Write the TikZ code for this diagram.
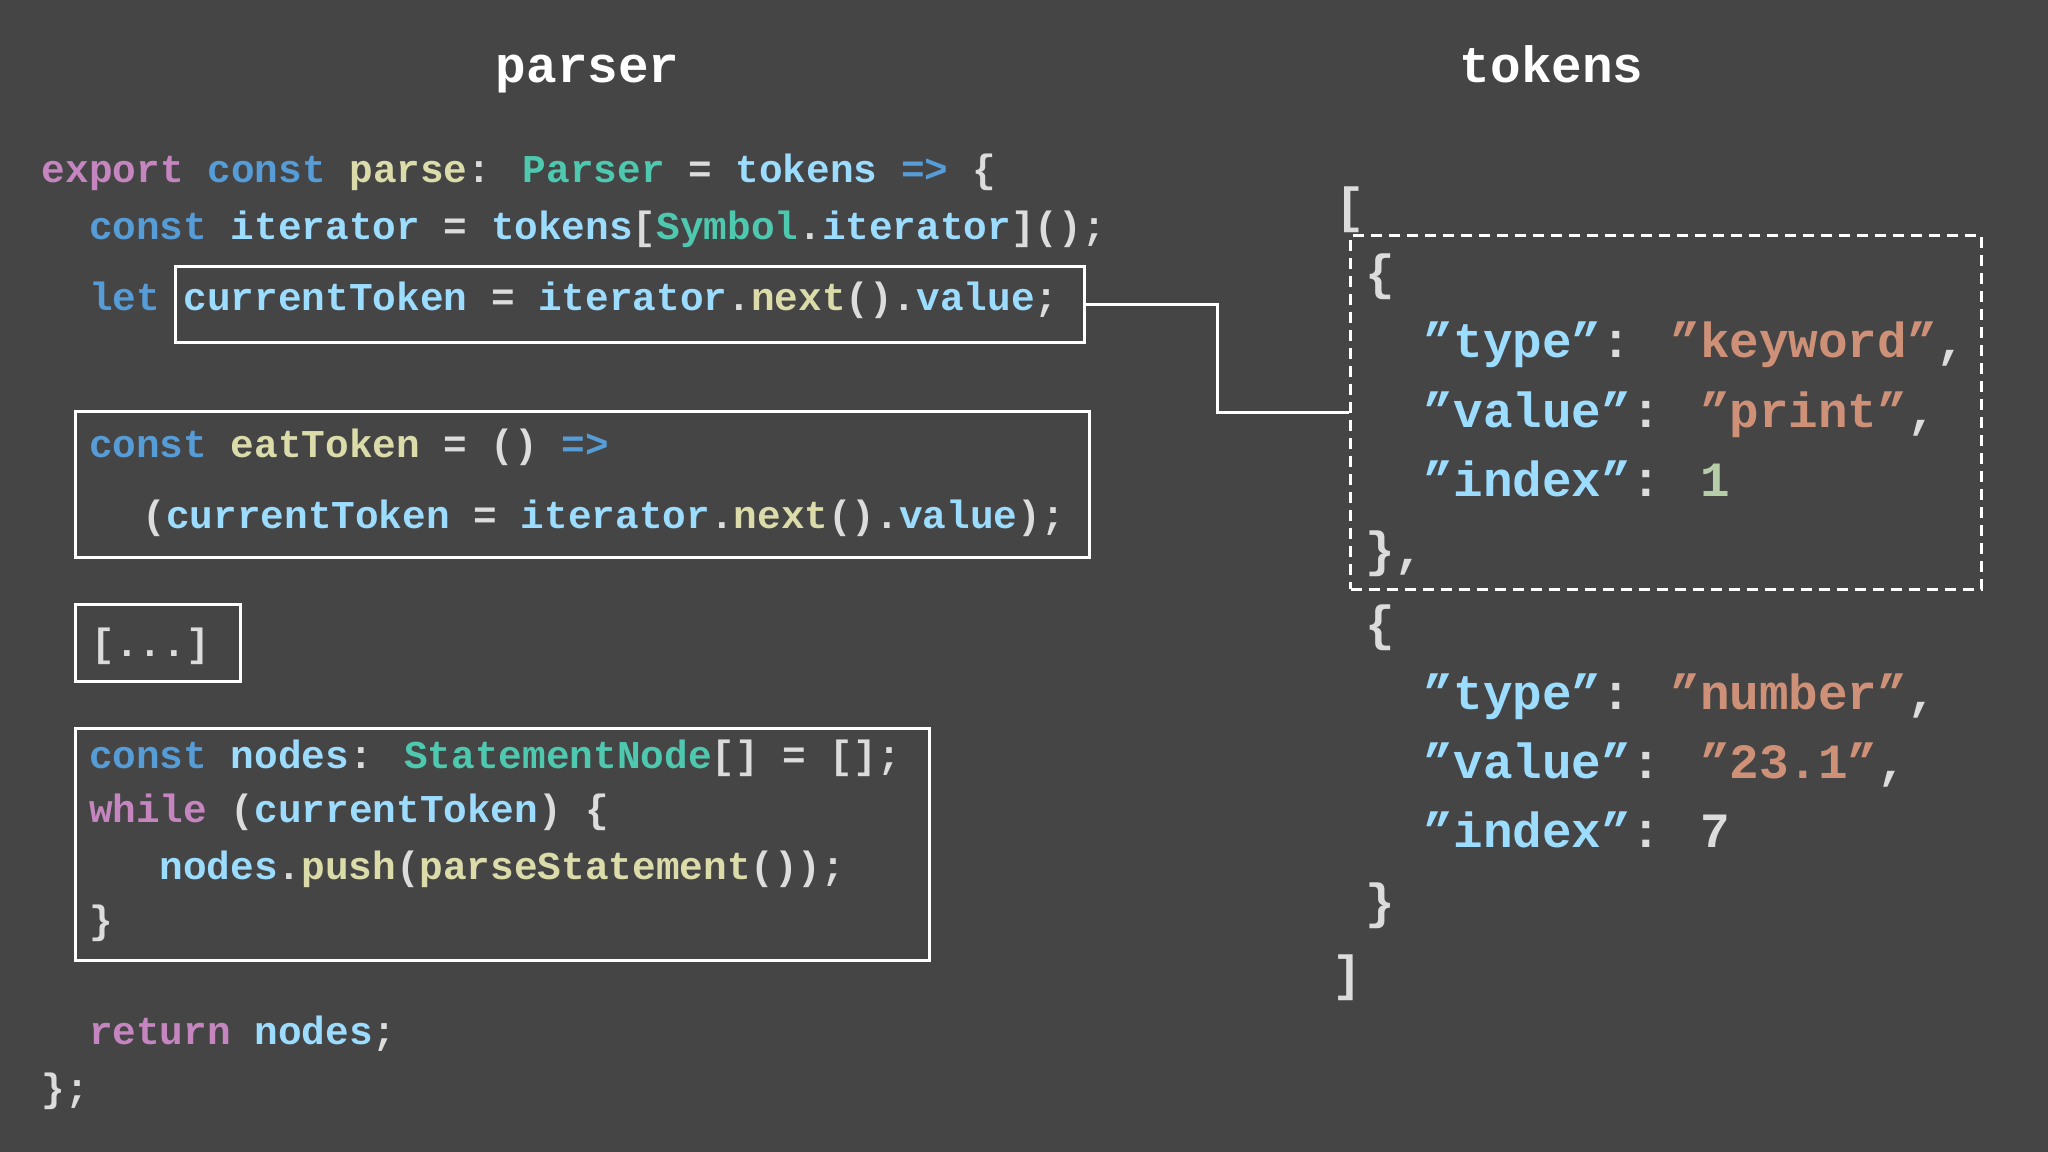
\documentclass[tikz,border=0pt]{standalone}
\usepackage{fontspec}
\setmainfont{Liberation Mono}[BoldFont=* Bold]
\definecolor{bg}{RGB}{69,69,70}
\definecolor{fg}{RGB}{220,220,220}
\definecolor{kw}{RGB}{197,134,192}
\definecolor{bl}{RGB}{86,156,214}
\definecolor{yl}{RGB}{220,220,170}
\definecolor{tl}{RGB}{78,201,176}
\definecolor{lb}{RGB}{156,220,254}
\definecolor{st}{RGB}{206,145,120}
\definecolor{nm}{RGB}{181,206,168}
\newcommand\cK[1]{\textcolor{kw}{#1}}
\newcommand\cB[1]{\textcolor{bl}{#1}}
\newcommand\cY[1]{\textcolor{yl}{#1}}
\newcommand\cT[1]{\textcolor{tl}{#1}}
\newcommand\cL[1]{\textcolor{lb}{#1}}
\newcommand\cS[1]{\textcolor{st}{#1}}
\newcommand\cN[1]{\textcolor{nm}{#1}}
\newcommand\qq[1]{\symbol{34}#1\symbol{34}}
\begin{document}
\begin{tikzpicture}[x=1.306pt,y=-1.306pt,
  code/.style={anchor=base west,inner sep=0pt,text=fg,font=\bfseries\fontsize{39.4}{40}\selectfont},
  big/.style={anchor=base west,inner sep=0pt,text=fg,font=\bfseries\fontsize{49.3}{50}\selectfont},
  frame/.style={draw=white,line width=3pt}]
\fill[bg] (0,0) rectangle (1568,882);
\useasboundingbox (0,0) rectangle (1568,882);
\node[anchor=base,inner sep=0pt,text=white,font=\bfseries\fontsize{51}{52}\selectfont] (t1) at (450,63) {parser};
\node[anchor=base,inner sep=0pt,text=white,font=\bfseries\fontsize{51}{52}\selectfont] (t2) at (1188,63) {tokens};
% code
\node[code] (l1) at (32,140) {\cK{export} \cB{const} \cY{parse}: \cT{Parser} = \cL{tokens} \cB{=>} \{};
\node[code] (l2) at (68,183) {\cB{const} \cL{iterator} = \cL{tokens}[\cT{Symbol}.\cL{iterator}]();};
\node[code] (l3) at (68,238) {\cB{let} \cL{currentToken} = \cL{iterator}.\cY{next}().\cL{value};};
\node[code] (e1) at (68,350) {\cB{const} \cY{eatToken} = () \cB{=>}};
\node[code] (e2) at (109,405) {(\cL{currentToken} = \cL{iterator}.\cY{next}().\cL{value});};
\node[code] (d1) at (70,503) {[...]};
\node[code] (n1) at (68,588) {\cB{const} \cL{nodes}: \cT{StatementNode}[] = [];};
\node[code] (n2) at (68,630) {\cK{while} (\cL{currentToken}) \{};
\node[code] (n3) at (122,673) {\cL{nodes}.\cY{push}(\cY{parseStatement}());};
\node[code] (n4) at (68,715) {\}};
\node[code] (r1) at (68,800) {\cK{return} \cL{nodes};};
\node[code] (r2) at (32,843) {\};};
% boxes
\node[frame,inner sep=0pt,minimum width=696*1.306pt,minimum height=58*1.306pt] (letbox) at (482,233) {};
\node[frame,inner sep=0pt,minimum width=776*1.306pt,minimum height=112*1.306pt] (eatbox) at (446,371) {};
\node[frame,inner sep=0pt,minimum width=126*1.306pt,minimum height=59*1.306pt] (dotbox) at (121,492.5) {};
\node[frame,inner sep=0pt,minimum width=654*1.306pt,minimum height=177*1.306pt] (nodebox) at (385,646.5) {};
\node[draw=white,line width=3pt,dash pattern=on 11pt off 7pt,inner sep=0pt,minimum width=483*1.306pt,minimum height=271*1.306pt] (dash) at (1275.5,315.5) {};
\draw[white,line width=3pt] (letbox.east) -- ++(101,0) |- (dash.west);
% tokens
\node[big] (k0) at (1022,170) {[};
\node[big] (k1) at (1045,222) {\{};
\node[big] (k2) at (1090,274) {\cL{\qq{type}}: \cS{\qq{keyword}},};
\node[big] (k3) at (1090,327) {\cL{\qq{value}}: \cS{\qq{print}},};
\node[big] (k4) at (1090,380) {\cL{\qq{index}}: \cN{1}};
\node[big] (k5) at (1045,434) {\},};
\node[big] (k6) at (1045,490) {\{};
\node[big] (k7) at (1090,543) {\cL{\qq{type}}: \cS{\qq{number}},};
\node[big] (k8) at (1090,596) {\cL{\qq{value}}: \cS{\qq{23.1}},};
\node[big] (k9) at (1090,649) {\cL{\qq{index}}: 7};
\node[big] (k10) at (1045,703) {\}};
\node[big] (k11) at (1020,758) {]};
\end{tikzpicture}
\end{document}
